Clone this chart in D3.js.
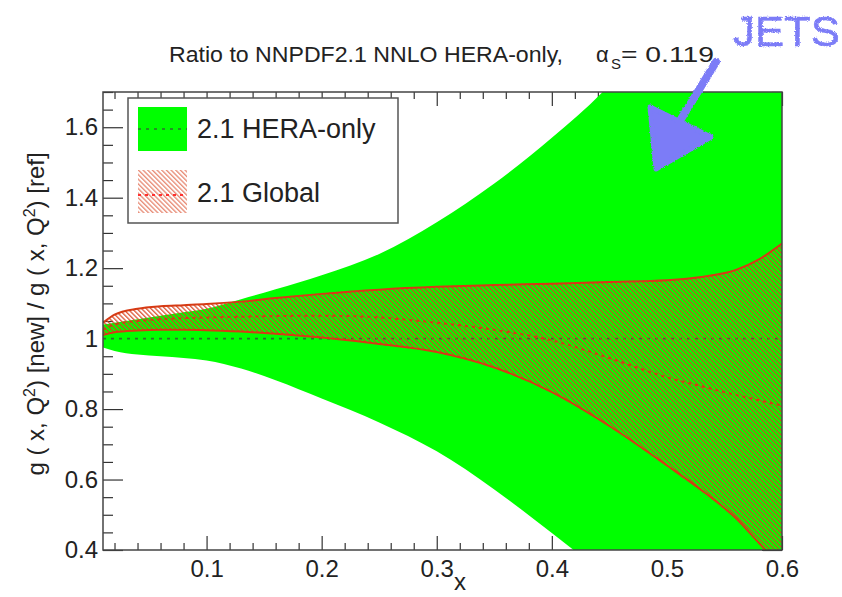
<!DOCTYPE html>
<html>
<head>
<meta charset="utf-8">
<script src="https://cdn.jsdelivr.net/npm/d3@7"></script>
<style>
  body { margin: 0; background: #fff; }
  svg text { font-family: "Liberation Sans", Arial, Helvetica, sans-serif; }
</style>
</head>
<body>
<svg id="chart" width="842" height="597"></svg>
<script>
// Gluon ratio g(x,Q^2)[new] / g(x,Q^2)[ref], reference = NNPDF2.1 NNLO HERA-only
const xs            = [0.01, 0.02, 0.04, 0.06, 0.08, 0.10, 0.13, 0.16, 0.20, 0.25, 0.30, 0.35, 0.40, 0.45, 0.50, 0.53, 0.56, 0.58, 0.60];

// 2.1 HERA-only band (green)
const heraCentral   = [1, 1, 1, 1, 1, 1, 1, 1, 1, 1, 1, 1, 1, 1, 1, 1, 1, 1, 1];
const heraUpper     = [1.040, 1.045, 1.055, 1.065, 1.075, 1.085, 1.112, 1.140, 1.180, 1.240, 1.330, 1.440, 1.570, 1.720, 1.920, 2.050, 2.200, 2.300, 2.400];
const heraLower     = [0.975, 0.965, 0.955, 0.950, 0.945, 0.938, 0.915, 0.882, 0.830, 0.762, 0.680, 0.572, 0.448, 0.320, 0.190, 0.110, 0.030, -0.02, -0.07];

// 2.1 Global band (red hatched)
const globalCentral = [1.025, 1.040, 1.050, 1.055, 1.058, 1.060, 1.062, 1.064, 1.065, 1.060, 1.045, 1.025, 0.995, 0.945, 0.890, 0.865, 0.840, 0.825, 0.810];
const globalUpper   = [1.045, 1.068, 1.085, 1.092, 1.095, 1.098, 1.105, 1.115, 1.127, 1.139, 1.147, 1.152, 1.156, 1.161, 1.166, 1.175, 1.195, 1.225, 1.270];
const globalLower   = [1.010, 1.018, 1.023, 1.025, 1.025, 1.024, 1.020, 1.014, 1.003, 0.985, 0.962, 0.918, 0.848, 0.752, 0.640, 0.570, 0.490, 0.420, 0.350];

const xMajorTicks = [0.1, 0.2, 0.3, 0.4, 0.5, 0.6];
const xTickLabels = ["0.1", "0.2", "0.3", "0.4", "0.5", "0.6"];
const yMajorTicks = [0.4, 0.6, 0.8, 1.0, 1.2, 1.4, 1.6];
const yTickLabels = ["0.4", "0.6", "0.8", "1", "1.2", "1.4", "1.6"];

const legendLabels = ["2.1 HERA-only", "2.1 Global"];

const GREEN = "#00ff00";
const GREEN_LINE = "#2f6f2f";
const RED_LINE = "#d63a14";
const RED_HATCH = "#d8401c";
const AXIS = "#333";

const svg = d3.select("#chart");
const plot = { left: 103, right: 782, top: 92, bottom: 550 };

const x = d3.scaleLinear().domain([0.01, 0.6]).range([plot.left, plot.right]);
const y = d3.scaleLinear().domain([0.4, 1.7]).range([plot.bottom, plot.top]);

const defs = svg.append("defs");
defs.append("clipPath").attr("id", "plotClip")
  .append("rect")
  .attr("x", plot.left).attr("y", plot.top)
  .attr("width", plot.right - plot.left).attr("height", plot.bottom - plot.top);

// diagonal hatching for the Global band
const hatch = defs.append("pattern")
  .attr("id", "hatch")
  .attr("patternUnits", "userSpaceOnUse")
  .attr("width", 3.3).attr("height", 10)
  .attr("patternTransform", "rotate(-45)");
hatch.append("line")
  .attr("x1", 0.7).attr("y1", 0).attr("x2", 0.7).attr("y2", 10)
  .attr("stroke", RED_HATCH).attr("stroke-width", 1.15);

// hand-drawn marker texture
const rough = defs.append("filter").attr("id", "rough")
  .attr("x", "-10%").attr("y", "-10%").attr("width", "120%").attr("height", "120%");
rough.append("feTurbulence").attr("type", "fractalNoise")
  .attr("baseFrequency", 0.8).attr("numOctaves", 2).attr("result", "noise");
rough.append("feDisplacementMap").attr("in", "SourceGraphic").attr("in2", "noise")
  .attr("scale", 3).attr("xChannelSelector", "R").attr("yChannelSelector", "G");

// ---- axes (ticks inward, mirrored on top and right) ----
const xMinor = d3.range(0.02, 0.6001, 0.02).filter(v => !xMajorTicks.some(m => Math.abs(m - v) < 1e-6));
const yMinor = d3.range(0.45, 1.7001, 0.05).filter(v => !yMajorTicks.some(m => Math.abs(m - v) < 1e-6));

function styleAxis(g) {
  g.select(".domain").remove();
  g.selectAll("line").attr("stroke", AXIS).attr("stroke-width", 1.2);
  g.selectAll("text").attr("fill", "#222").style("font-size", "24px");
}

const xLab = d => xTickLabels[xMajorTicks.indexOf(d)];
const yLab = d => yTickLabels[yMajorTicks.indexOf(d)];

svg.append("g").attr("transform", `translate(0,${plot.bottom})`)
  .call(d3.axisBottom(x).tickValues(xMajorTicks).tickSizeInner(-14).tickSizeOuter(0).tickPadding(10).tickFormat(xLab))
  .call(styleAxis);
svg.append("g").attr("transform", `translate(0,${plot.bottom})`)
  .call(d3.axisBottom(x).tickValues(xMinor).tickSizeInner(-7).tickSizeOuter(0).tickFormat(""))
  .call(styleAxis);
svg.append("g").attr("transform", `translate(0,${plot.top})`)
  .call(d3.axisTop(x).tickValues(xMajorTicks).tickSizeInner(-14).tickSizeOuter(0).tickFormat(""))
  .call(styleAxis);
svg.append("g").attr("transform", `translate(0,${plot.top})`)
  .call(d3.axisTop(x).tickValues(xMinor).tickSizeInner(-7).tickSizeOuter(0).tickFormat(""))
  .call(styleAxis);

svg.append("g").attr("transform", `translate(${plot.left},0)`)
  .call(d3.axisLeft(y).tickValues(yMajorTicks).tickSizeInner(-20).tickSizeOuter(0).tickPadding(5).tickFormat(yLab))
  .call(styleAxis);
svg.append("g").attr("transform", `translate(${plot.left},0)`)
  .call(d3.axisLeft(y).tickValues(yMinor).tickSizeInner(-10).tickSizeOuter(0).tickFormat(""))
  .call(styleAxis);
svg.append("g").attr("transform", `translate(${plot.right},0)`)
  .call(d3.axisRight(y).tickValues(yMajorTicks).tickSizeInner(-20).tickSizeOuter(0).tickFormat(""))
  .call(styleAxis);
svg.append("g").attr("transform", `translate(${plot.right},0)`)
  .call(d3.axisRight(y).tickValues(yMinor).tickSizeInner(-10).tickSizeOuter(0).tickFormat(""))
  .call(styleAxis);

// ---- bands ----
const rows = xs.map((xv, i) => ({
  x: xv,
  hc: heraCentral[i], hu: heraUpper[i], hl: heraLower[i],
  gc: globalCentral[i], gu: globalUpper[i], gl: globalLower[i]
}));

const curve = d3.curveMonotoneX;
const plotG = svg.append("g").attr("clip-path", "url(#plotClip)");

plotG.append("path").datum(rows)
  .attr("fill", GREEN)
  .attr("d", d3.area().curve(curve).x(d => x(d.x)).y0(d => y(d.hl)).y1(d => y(d.hu)));

plotG.append("path").datum(rows)
  .attr("fill", "none").attr("stroke", GREEN_LINE).attr("stroke-width", 1.6)
  .attr("stroke-dasharray", "3 5")
  .attr("d", d3.line().curve(curve).x(d => x(d.x)).y(d => y(d.hc)));

plotG.append("path").datum(rows)
  .attr("fill", "url(#hatch)")
  .attr("d", d3.area().curve(curve).x(d => x(d.x)).y0(d => y(d.gl)).y1(d => y(d.gu)));

["gu", "gl"].forEach(k => {
  plotG.append("path").datum(rows)
    .attr("fill", "none").attr("stroke", RED_LINE).attr("stroke-width", 2)
    .attr("d", d3.line().curve(curve).x(d => x(d.x)).y(d => y(d[k])));
});

plotG.append("path").datum(rows)
  .attr("fill", "none").attr("stroke", RED_LINE).attr("stroke-width", 2)
  .attr("stroke-dasharray", "3 4")
  .attr("d", d3.line().curve(curve).x(d => x(d.x)).y(d => y(d.gc)));

// frame
svg.append("rect")
  .attr("x", plot.left).attr("y", plot.top)
  .attr("width", plot.right - plot.left).attr("height", plot.bottom - plot.top)
  .attr("fill", "none").attr("stroke", "#444").attr("stroke-width", 1.5);

// ---- axis titles ----
svg.append("text")
  .attr("x", 460).attr("y", 590)
  .attr("text-anchor", "middle")
  .style("font-size", "24px").attr("fill", "#222")
  .text("x");

const yTitle = svg.append("text")
  .attr("transform", "translate(44,314) rotate(-90)")
  .attr("text-anchor", "middle")
  .style("font-size", "24px").attr("fill", "#222");
yTitle.append("tspan").text("g ( x, Q");
yTitle.append("tspan").attr("dy", -9).style("font-size", "16px").text("2");
yTitle.append("tspan").attr("dy", 9).text(") [new] / g ( x, Q");
yTitle.append("tspan").attr("dy", -9).style("font-size", "16px").text("2");
yTitle.append("tspan").attr("dy", 9).text(") [ref]");

// ---- title ----
const title = svg.append("g").attr("fill", "#222");
title.append("text").attr("x", 169).attr("y", 62)
  .style("font-size", "22px")
  .attr("textLength", 394).attr("lengthAdjust", "spacingAndGlyphs")
  .text("Ratio to NNPDF2.1 NNLO HERA-only,");
title.append("text").attr("x", 596).attr("y", 62).style("font-size", "22px").text("α");
title.append("text").attr("x", 611).attr("y", 69).style("font-size", "15px").text("S");
title.append("text").attr("x", 621).attr("y", 62).style("font-size", "22px")
  .attr("textLength", 93).attr("lengthAdjust", "spacingAndGlyphs")
  .text("= 0.119");

// ---- legend ----
const leg = svg.append("g");
leg.append("rect")
  .attr("x", 128).attr("y", 98).attr("width", 270).attr("height", 125)
  .attr("fill", "#fff").attr("stroke", "#555").attr("stroke-width", 1.5);

leg.append("rect").attr("x", 138).attr("y", 107).attr("width", 49).attr("height", 44).attr("fill", GREEN);
leg.append("line").attr("x1", 138).attr("x2", 187).attr("y1", 129).attr("y2", 129)
  .attr("stroke", GREEN_LINE).attr("stroke-width", 1.6).attr("stroke-dasharray", "3 5");
leg.append("text").attr("x", 197).attr("y", 138).style("font-size", "27px").attr("fill", "#222")
  .text(legendLabels[0]);

leg.append("rect").attr("x", 138).attr("y", 170).attr("width", 49).attr("height", 43)
  .attr("fill", "url(#hatch)").attr("opacity", 0.7);
leg.append("line").attr("x1", 138).attr("x2", 187).attr("y1", 195).attr("y2", 195)
  .attr("stroke", "#ff3030").attr("stroke-width", 2).attr("stroke-dasharray", "3 4");
leg.append("text").attr("x", 197).attr("y", 202).style("font-size", "27px").attr("fill", "#222")
  .text(legendLabels[1]);

// ---- handwritten note ----
const note = svg.append("g").attr("filter", "url(#rough)");
const BLUE = "#7b7cf7";
note.append("text").attr("x", 733).attr("y", 46)
  .style("font-size", "43px")
  .attr("textLength", 107).attr("lengthAdjust", "spacingAndGlyphs")
  .attr("fill", BLUE).attr("stroke", BLUE).attr("stroke-width", 0.5)
  .text("JETS");
note.append("line").attr("x1", 716).attr("y1", 62).attr("x2", 678).attr("y2", 124)
  .attr("stroke", BLUE).attr("stroke-width", 8).attr("stroke-linecap", "round");
note.append("path")
  .attr("d", "M650,107 L711,137 L656,169 Z")
  .attr("fill", BLUE).attr("stroke", BLUE).attr("stroke-width", 5).attr("stroke-linejoin", "round");
</script>
</body>
</html>
